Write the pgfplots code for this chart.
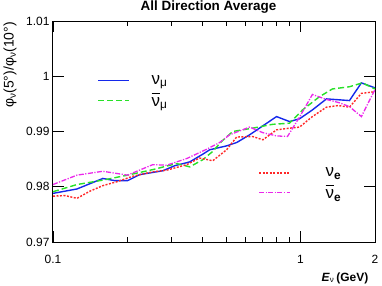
\documentclass[border=0pt]{standalone}
\usepackage{fontspec}
\setmainfont{Liberation Sans}
\usepackage{pgfplots}
\pgfplotsset{compat=1.18}
\definecolor{cblue}{RGB}{20,40,235}
\definecolor{cgreen}{RGB}{40,225,40}
\definecolor{cred}{RGB}{255,40,40}
\definecolor{cmag}{RGB}{235,40,235}
\pgfplotsset{
  legend image code/.code={\draw[#1] (0bp,0bp) -- (31bp,0bp);},
}
\newcommand{\legfont}{\fontsize{17}{19}\selectfont}
\newcommand{\barnu}{\leavevmode\vbox{\hrule height 1bp\kern 3.5bp\hbox{ν}}}
\begin{document}
\begin{tikzpicture}
\begin{axis}[
  scale only axis, width=322bp, height=221bp,
  xmode=log, xmin=0.1, xmax=2, ymin=0.97, ymax=1.01,
  axis line style={line width=1bp},
  tick align=inside, major tick length=11bp, minor tick length=5bp,
  tick style={black, line width=0.7bp},
  xtick={0.1,1,2}, xticklabels={0.1,1,2},
  minor xtick={0.2,0.3,0.4,0.5,0.6,0.7,0.8,0.9},
  ytick={0.97,0.98,0.99,1,1.01}, yticklabels={0.97,0.98,0.99,1,1.01},
  tick label style={font=\fontsize{12}{14}\selectfont},
  xticklabel style={yshift=-10bp},
  legend style={draw=none, fill=none, at={(0.137,0.681)}, anchor=west,
    font=\legfont, inner sep=0pt, row sep=3bp,
    /tikz/every odd column/.append style={column sep=20bp}},
  legend cell align=left,
]
\coordinate (sw) at (rel axis cs:0,0);
\coordinate (ne) at (rel axis cs:1,1);
\addplot[cblue, line width=1.4bp] coordinates {
(0.100,0.9788) (0.125,0.9796) (0.159,0.9815) (0.178,0.9811) (0.200,0.9811)
(0.224,0.9822) (0.278,0.9829) (0.310,0.9838) (0.357,0.9845) (0.403,0.9859)
(0.430,0.9867) (0.503,0.9874) (0.552,0.9880) (0.623,0.9894) (0.800,0.9927)
(0.903,0.9918) (0.991,0.9923) (1.117,0.9939) (1.273,0.9959) (1.577,0.9956)
(1.762,0.9988) (2.0,0.9979)
};
\addlegendentry{ν\textsubscript{μ}}
\addplot[cgreen, line width=1.4bp, dash pattern=on 6bp off 3bp] coordinates {
(0.100,0.9791) (0.125,0.9804) (0.159,0.9812) (0.200,0.9821) (0.253,0.9831)
(0.316,0.9842) (0.357,0.9836) (0.403,0.9849) (0.442,0.9864) (0.480,0.9882)
(0.532,0.9900) (0.640,0.9906) (0.771,0.9913) (0.903,0.9915) (1.019,0.9939)
(1.193,0.9963) (1.346,0.9977) (1.577,0.9981) (1.778,0.9988) (2.0,0.9977)
};
\addlegendentry{\barnu\textsubscript{μ}}
\end{axis}
\begin{axis}[
  scale only axis, width=322bp, height=221bp,
  xmode=log, xmin=0.1, xmax=2, ymin=0.97, ymax=1.01,
  hide axis,
  legend style={draw=none, fill=none, at={(0.637,0.262)}, anchor=west,
    font=\legfont, inner sep=0pt, row sep=3bp,
    /tikz/every odd column/.append style={column sep=33bp}},
  legend cell align=left,
]
\addplot[cred, line width=1.4bp, dash pattern=on 2bp off 1.5bp] coordinates {
(0.100,0.9783) (0.112,0.9784) (0.125,0.9779) (0.141,0.9792) (0.159,0.9802)
(0.181,0.9809) (0.210,0.9819) (0.253,0.9827) (0.288,0.9830) (0.347,0.9840)
(0.391,0.9852) (0.442,0.9847) (0.503,0.9867) (0.552,0.9890) (0.640,0.9891)
(0.705,0.9885) (0.800,0.9903) (0.903,0.9906) (0.991,0.9908) (1.117,0.9927)
(1.273,0.9944) (1.420,0.9947) (1.577,0.9944) (1.762,0.9969) (2.0,0.9972)
};
\addlegendentry{ν\textsubscript{\textbf{e}}}
\addplot[cmag, line width=1.3bp, dash pattern=on 5bp off 1.5bp on 1.2bp off 1.5bp] coordinates {
(0.100,0.9804) (0.125,0.9821) (0.159,0.9828) (0.200,0.9821) (0.253,0.9840)
(0.288,0.9839) (0.347,0.9851) (0.418,0.9868) (0.471,0.9880) (0.517,0.9894)
(0.623,0.9908) (0.703,0.9898) (0.800,0.9892) (0.886,0.9891) (0.991,0.9926)
(1.117,0.9967) (1.273,0.9958) (1.437,0.9952) (1.577,0.9945) (1.762,0.9927)
(2.0,0.9976)
};
\addlegendentry{\barnu\textsubscript{\textbf{e}}}
\end{axis}
\node[font=\bfseries\fontsize{13.5}{16}\selectfont] at ([shift={(155.5bp,13.5bp)}]sw|-ne) {All Direction Average};
\node[font=\fontsize{12}{14}\selectfont] at ([shift={(292bp,-36bp)}]sw) {\textbf{\textit{E}}\textsubscript{ν}\,\textbf{(GeV)}};
\node[font=\fontsize{14}{16}\selectfont, rotate=90] at ([shift={(-43bp,-44bp)}]sw|-ne) {φ\textsubscript{ν}(5°)/φ\textsubscript{ν}(10°)};
\pgfresetboundingbox
\path ([shift={(-53bp,-44bp)}]sw) rectangle ([shift={(7bp,21bp)}]ne);
\end{tikzpicture}
\end{document}
